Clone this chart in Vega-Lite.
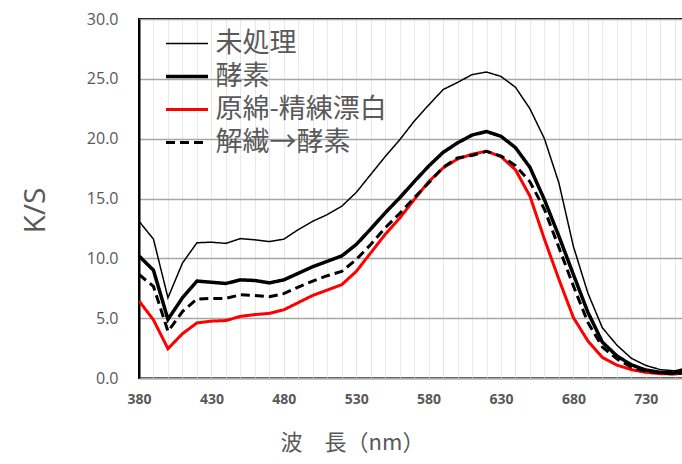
{
  "$schema": "https://vega.github.io/schema/vega-lite/v6.json",
  "width": 545,
  "height": 359,
  "autosize": "none",
  "padding": {"left": 139, "top": 19, "right": 0, "bottom": 86},
  "background": "white",
  "config": {"view": {"stroke": "black", "strokeWidth": 2}, "font": "Noto Sans CJK JP"},
  "data": {"values": [
    {"nm":380,"s":"原綿-精練漂白","v":6.45},{"nm":390,"s":"原綿-精練漂白","v":4.85},{"nm":400,"s":"原綿-精練漂白","v":2.45},{"nm":410,"s":"原綿-精練漂白","v":3.7},{"nm":420,"s":"原綿-精練漂白","v":4.6},{"nm":430,"s":"原綿-精練漂白","v":4.75},{"nm":440,"s":"原綿-精練漂白","v":4.8},{"nm":450,"s":"原綿-精練漂白","v":5.15},{"nm":460,"s":"原綿-精練漂白","v":5.3},{"nm":470,"s":"原綿-精練漂白","v":5.4},{"nm":480,"s":"原綿-精練漂白","v":5.7},{"nm":490,"s":"原綿-精練漂白","v":6.3},{"nm":500,"s":"原綿-精練漂白","v":6.9},{"nm":510,"s":"原綿-精練漂白","v":7.35},{"nm":520,"s":"原綿-精練漂白","v":7.8},{"nm":530,"s":"原綿-精練漂白","v":8.9},{"nm":540,"s":"原綿-精練漂白","v":10.45},{"nm":550,"s":"原綿-精練漂白","v":12.0},{"nm":560,"s":"原綿-精練漂白","v":13.35},{"nm":570,"s":"原綿-精練漂白","v":14.9},{"nm":580,"s":"原綿-精練漂白","v":16.4},{"nm":590,"s":"原綿-精練漂白","v":17.55},{"nm":600,"s":"原綿-精練漂白","v":18.3},{"nm":610,"s":"原綿-精練漂白","v":18.7},{"nm":620,"s":"原綿-精練漂白","v":18.95},{"nm":630,"s":"原綿-精練漂白","v":18.5},{"nm":640,"s":"原綿-精練漂白","v":17.4},{"nm":650,"s":"原綿-精練漂白","v":15.2},{"nm":660,"s":"原綿-精練漂白","v":11.6},{"nm":670,"s":"原綿-精練漂白","v":8.25},{"nm":680,"s":"原綿-精練漂白","v":5.05},{"nm":690,"s":"原綿-精練漂白","v":3.1},{"nm":700,"s":"原綿-精練漂白","v":1.72},{"nm":710,"s":"原綿-精練漂白","v":1.08},{"nm":720,"s":"原綿-精練漂白","v":0.7},{"nm":730,"s":"原綿-精練漂白","v":0.47},{"nm":740,"s":"原綿-精練漂白","v":0.36},{"nm":750,"s":"原綿-精練漂白","v":0.33},{"nm":760,"s":"原綿-精練漂白","v":0.47},
    {"nm":380,"s":"解繊→酵素","v":8.65},{"nm":390,"s":"解繊→酵素","v":7.65},{"nm":400,"s":"解繊→酵素","v":3.9},{"nm":410,"s":"解繊→酵素","v":5.55},{"nm":420,"s":"解繊→酵素","v":6.6},{"nm":430,"s":"解繊→酵素","v":6.65},{"nm":440,"s":"解繊→酵素","v":6.65},{"nm":450,"s":"解繊→酵素","v":6.95},{"nm":460,"s":"解繊→酵素","v":6.9},{"nm":470,"s":"解繊→酵素","v":6.8},{"nm":480,"s":"解繊→酵素","v":7.05},{"nm":490,"s":"解繊→酵素","v":7.6},{"nm":500,"s":"解繊→酵素","v":8.1},{"nm":510,"s":"解繊→酵素","v":8.55},{"nm":520,"s":"解繊→酵素","v":8.9},{"nm":530,"s":"解繊→酵素","v":9.9},{"nm":540,"s":"解繊→酵素","v":11.15},{"nm":550,"s":"解繊→酵素","v":12.55},{"nm":560,"s":"解繊→酵素","v":13.75},{"nm":570,"s":"解繊→酵素","v":15.05},{"nm":580,"s":"解繊→酵素","v":16.3},{"nm":590,"s":"解繊→酵素","v":17.6},{"nm":600,"s":"解繊→酵素","v":18.4},{"nm":610,"s":"解繊→酵素","v":18.6},{"nm":620,"s":"解繊→酵素","v":18.95},{"nm":630,"s":"解繊→酵素","v":18.55},{"nm":640,"s":"解繊→酵素","v":17.75},{"nm":650,"s":"解繊→酵素","v":16.4},{"nm":660,"s":"解繊→酵素","v":14.1},{"nm":670,"s":"解繊→酵素","v":10.9},{"nm":680,"s":"解繊→酵素","v":7.7},{"nm":690,"s":"解繊→酵素","v":4.65},{"nm":700,"s":"解繊→酵素","v":2.6},{"nm":710,"s":"解繊→酵素","v":1.6},{"nm":720,"s":"解繊→酵素","v":0.9},{"nm":730,"s":"解繊→酵素","v":0.56},{"nm":740,"s":"解繊→酵素","v":0.42},{"nm":750,"s":"解繊→酵素","v":0.35},{"nm":760,"s":"解繊→酵素","v":0.5},
    {"nm":380,"s":"酵素","v":10.2},{"nm":390,"s":"酵素","v":9.0},{"nm":400,"s":"酵素","v":4.9},{"nm":410,"s":"酵素","v":6.7},{"nm":420,"s":"酵素","v":8.1},{"nm":430,"s":"酵素","v":8.0},{"nm":440,"s":"酵素","v":7.9},{"nm":450,"s":"酵素","v":8.2},{"nm":460,"s":"酵素","v":8.15},{"nm":470,"s":"酵素","v":7.95},{"nm":480,"s":"酵素","v":8.2},{"nm":490,"s":"酵素","v":8.75},{"nm":500,"s":"酵素","v":9.3},{"nm":510,"s":"酵素","v":9.75},{"nm":520,"s":"酵素","v":10.2},{"nm":530,"s":"酵素","v":11.15},{"nm":540,"s":"酵素","v":12.45},{"nm":550,"s":"酵素","v":13.8},{"nm":560,"s":"酵素","v":15.05},{"nm":570,"s":"酵素","v":16.4},{"nm":580,"s":"酵素","v":17.7},{"nm":590,"s":"酵素","v":18.85},{"nm":600,"s":"酵素","v":19.65},{"nm":610,"s":"酵素","v":20.3},{"nm":620,"s":"酵素","v":20.6},{"nm":630,"s":"酵素","v":20.2},{"nm":640,"s":"酵素","v":19.25},{"nm":650,"s":"酵素","v":17.6},{"nm":660,"s":"酵素","v":14.9},{"nm":670,"s":"酵素","v":11.85},{"nm":680,"s":"酵素","v":8.65},{"nm":690,"s":"酵素","v":5.5},{"nm":700,"s":"酵素","v":3.0},{"nm":710,"s":"酵素","v":1.85},{"nm":720,"s":"酵素","v":1.1},{"nm":730,"s":"酵素","v":0.67},{"nm":740,"s":"酵素","v":0.47},{"nm":750,"s":"酵素","v":0.42},{"nm":760,"s":"酵素","v":0.7},
    {"nm":380,"s":"未処理","v":13.1},{"nm":390,"s":"未処理","v":11.6},{"nm":400,"s":"未処理","v":6.7},{"nm":410,"s":"未処理","v":9.6},{"nm":420,"s":"未処理","v":11.3},{"nm":430,"s":"未処理","v":11.35},{"nm":440,"s":"未処理","v":11.25},{"nm":450,"s":"未処理","v":11.65},{"nm":460,"s":"未処理","v":11.55},{"nm":470,"s":"未処理","v":11.4},{"nm":480,"s":"未処理","v":11.6},{"nm":490,"s":"未処理","v":12.4},{"nm":500,"s":"未処理","v":13.1},{"nm":510,"s":"未処理","v":13.65},{"nm":520,"s":"未処理","v":14.35},{"nm":530,"s":"未処理","v":15.5},{"nm":540,"s":"未処理","v":17.0},{"nm":550,"s":"未処理","v":18.5},{"nm":560,"s":"未処理","v":19.9},{"nm":570,"s":"未処理","v":21.45},{"nm":580,"s":"未処理","v":22.8},{"nm":590,"s":"未処理","v":24.1},{"nm":600,"s":"未処理","v":24.7},{"nm":610,"s":"未処理","v":25.35},{"nm":620,"s":"未処理","v":25.57},{"nm":630,"s":"未処理","v":25.2},{"nm":640,"s":"未処理","v":24.3},{"nm":650,"s":"未処理","v":22.5},{"nm":660,"s":"未処理","v":20.0},{"nm":670,"s":"未処理","v":16.3},{"nm":680,"s":"未処理","v":11.0},{"nm":690,"s":"未処理","v":7.1},{"nm":700,"s":"未処理","v":4.2},{"nm":710,"s":"未処理","v":2.75},{"nm":720,"s":"未処理","v":1.65},{"nm":730,"s":"未処理","v":1.05},{"nm":740,"s":"未処理","v":0.7},{"nm":750,"s":"未処理","v":0.6},{"nm":760,"s":"未処理","v":0.9}
  ]},
  "mark": {"type": "line", "clip": true},
  "encoding": {
    "x": {
      "field": "nm", "type": "quantitative",
      "scale": {"domain": [380, 756.4], "nice": false, "zero": false},
      "axis": {
        "values": [380,390,400,410,420,430,440,450,460,470,480,490,500,510,520,530,540,550,560,570,580,590,600,610,620,630,640,650,660,670,680,690,700,710,720,730,740,750],
        "labelExpr": "(datum.value-380)%50==0 ? datum.label : ''",
        "grid": true, "gridColor": "#e8e8e8", "gridWidth": 1,
        "ticks": false, "domainColor": "#a6a6a6", "domainWidth": 2,
        "labelFont": "Open Sans", "labelFontWeight": "bold", "labelFontSize": 14, "labelColor": "#595959",
        "labelPadding": 14, "labelFlush": false, "labelOverlap": false,
        "title": "波　長（nm）", "titleFontSize": 22, "titleFontWeight": "normal", "titleColor": "#595959",
        "titlePadding": 26, "titleX": 213
      }
    },
    "y": {
      "field": "v", "type": "quantitative",
      "scale": {"domain": [0, 30], "nice": false},
      "axis": {
        "values": [0, 5, 10, 15, 20, 25, 30], "format": ".1f",
        "grid": true, "gridColor": "#a6a6a6", "gridWidth": 1.5,
        "ticks": false, "domainColor": "black", "domainWidth": 2,
        "labelFont": "Open Sans", "labelFontSize": 16, "labelColor": "#595959", "labelPadding": 21,
        "title": "K/S", "titleFontSize": 30, "titleFontWeight": "normal", "titleColor": "#595959",
        "titleFont": "Open Sans", "titleX": -104, "titleY": 191, "titleBaseline": "middle"
      }
    },
    "color": {
      "field": "s", "type": "nominal",
      "scale": {"domain": ["未処理", "酵素", "原綿-精練漂白", "解繊→酵素"], "range": ["#000000", "#000000", "#ff0000", "#000000"]},
      "legend": {
        "orient": "none", "legendX": 34.5, "legendY": 11, "title": null,
        "symbolType": "M-2,0H2", "symbolSize": 441,
        "labelFont": "Noto Sans CJK JP", "labelFontSize": 27, "labelColor": "#595959", "labelLimit": 0,
        "labelOffset": 15, "rowPadding": 5, "padding": 0
      }
    },
    "strokeWidth": {
      "field": "s", "type": "nominal",
      "scale": {"type": "ordinal", "domain": ["未処理", "酵素", "原綿-精練漂白", "解繊→酵素"], "range": [1.5, 3.5, 3, 3]}
    },
    "strokeDash": {
      "field": "s", "type": "nominal",
      "scale": {"domain": ["未処理", "酵素", "原綿-精練漂白", "解繊→酵素"], "range": [[1, 0], [1, 0], [1, 0], [9, 5]]}
    }
  }
}
